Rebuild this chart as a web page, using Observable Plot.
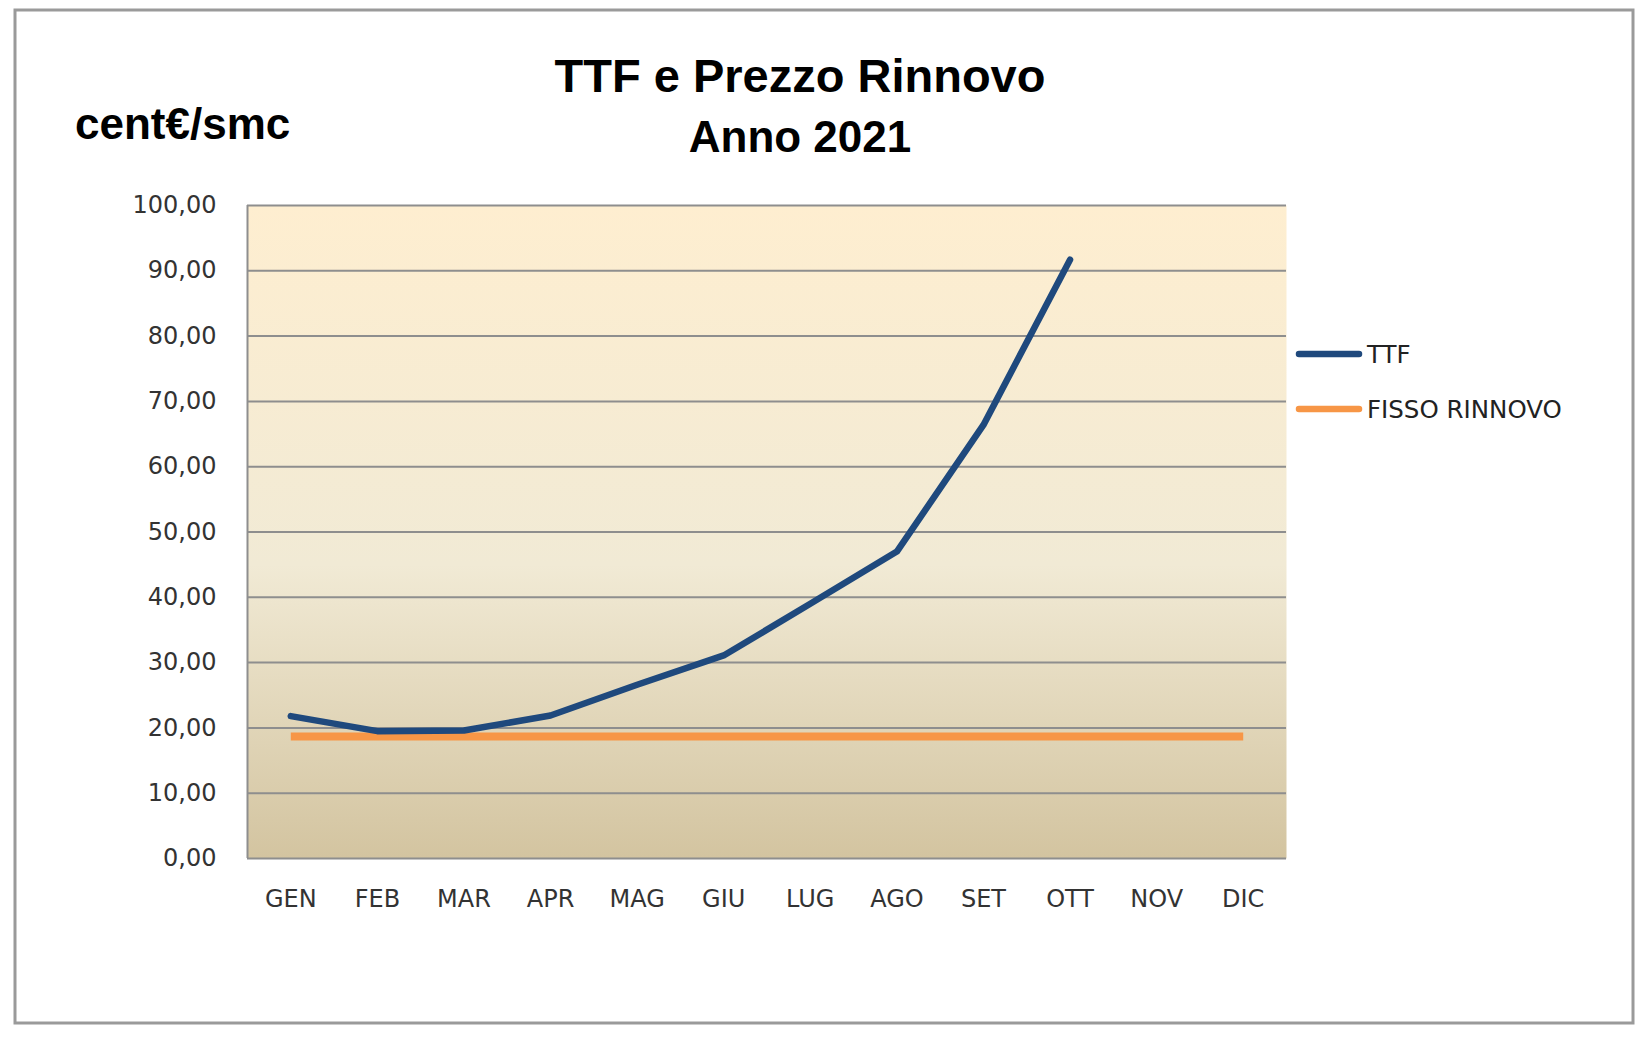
<!DOCTYPE html>
<html>
<head>
<meta charset="utf-8">
<script src="https://cdn.jsdelivr.net/npm/d3@7"></script>
<script src="https://cdn.jsdelivr.net/npm/@observablehq/plot@0.6"></script>
<style>
  html, body { margin: 0; padding: 0; background: #ffffff; }
  #chart { width: 1637px; height: 1045px; }
</style>
</head>
<body>
<div id="chart"></div>
<script>
// ---- data ----
const months = ["GEN","FEB","MAR","APR","MAG","GIU","LUG","AGO","SET","OTT","NOV","DIC"];
const ttfValues = [21.8, 19.5, 19.6, 21.9, 26.6, 31.1, 39.0, 47.0, 66.4, 91.7];
const fissoValues = [18.7, 18.7, 18.7, 18.7, 18.7, 18.7, 18.7, 18.7, 18.7, 18.7, 18.7, 18.7];
const yTicks = [0, 10, 20, 30, 40, 50, 60, 70, 80, 90, 100];
const seriesNames = ["TTF", "FISSO RINNOVO"];
const seriesColors = ["#1F497D", "#F79646"];

const ttfData = ttfValues.map((v, i) => ({i, month: months[i], value: v}));
const fissoData = fissoValues.map((v, i) => ({i, month: months[i], value: v}));

const tickFont = "'DejaVu Sans', Verdana, sans-serif";
const fmt = d => d.toFixed(2).replace(".", ",");

const svg = Plot.plot({
  width: 1637,
  height: 1045,
  marginLeft: 247,
  marginRight: 351,
  marginTop: 205,
  marginBottom: 187,
  style: {background: "transparent", color: "#333333"},
  x: {type: "linear", domain: [-0.5, 11.5], axis: null, label: null},
  y: {domain: [0, 100], axis: null, label: null},
  marks: [
    Plot.frame({fill: "url(#bgGrad)", stroke: null}),
    Plot.ruleY(yTicks, {stroke: "#8e8e8e", strokeWidth: 2}),
    Plot.ruleX([-0.5], {stroke: "#8e8e8e", strokeWidth: 2}),
    Plot.axisY(yTicks, {label: null, tickSize: 0, tickPadding: 31, tickFormat: fmt, fontSize: 24, fontFamily: tickFont, fill: "#333333"}),
    Plot.axisX(d3.range(12), {label: null, tickSize: 0, tickPadding: 31, tickFormat: i => months[i], fontSize: 24, fontFamily: tickFont, fill: "#333333"}),
    Plot.line(fissoData, {x: "i", y: "value", stroke: seriesColors[1], strokeWidth: 8, strokeLinecap: "butt"}),
    Plot.line(ttfData, {x: "i", y: "value", stroke: seriesColors[0], strokeWidth: 6.5, strokeLinecap: "round", strokeLinejoin: "round"})
  ]
});

const s = d3.select(svg);
// gradient background
const defs = s.insert("defs", ":first-child");
const grad = defs.append("linearGradient").attr("id", "bgGrad")
  .attr("x1", 0).attr("y1", 0).attr("x2", 0).attr("y2", 1);
grad.append("stop").attr("offset", "0%").attr("stop-color", "#FEEED0");
grad.append("stop").attr("offset", "55%").attr("stop-color", "#F1EAD5");
grad.append("stop").attr("offset", "100%").attr("stop-color", "#D3C4A0");

// outer border
s.append("rect").attr("x", 15).attr("y", 10).attr("width", 1618).attr("height", 1013)
  .attr("fill", "none").attr("stroke", "#9a9a9a").attr("stroke-width", 3);

// titles
const titleFont = "'Liberation Sans', Arial, sans-serif";
s.append("text").attr("x", 800).attr("y", 92).attr("text-anchor", "middle")
  .attr("font-family", titleFont).attr("font-weight", "bold").attr("font-size", 47)
  .attr("fill", "#000").text("TTF e Prezzo Rinnovo");
s.append("text").attr("x", 800).attr("y", 152).attr("text-anchor", "middle")
  .attr("font-family", titleFont).attr("font-weight", "bold").attr("font-size", 44)
  .attr("fill", "#000").text("Anno 2021");
s.append("text").attr("x", 75).attr("y", 139).attr("text-anchor", "start")
  .attr("font-family", titleFont).attr("font-weight", "bold").attr("font-size", 44)
  .attr("fill", "#000").text("cent€/smc");

// legend
const legendY = [354, 409];
seriesNames.forEach((name, k) => {
  const g = s.append("g");
  g.append("line").attr("x1", 1299).attr("x2", 1359).attr("y1", legendY[k]).attr("y2", legendY[k])
    .attr("stroke", seriesColors[k]).attr("stroke-width", 6.5).attr("stroke-linecap", "round");
  g.append("text").attr("x", 1367).attr("y", legendY[k]).attr("dy", "0.36em")
    .attr("text-anchor", "start")
    .attr("font-family", tickFont).attr("font-size", 24.5).attr("fill", "#222").text(name);
});

document.getElementById("chart").appendChild(svg);
</script>
</body>
</html>
